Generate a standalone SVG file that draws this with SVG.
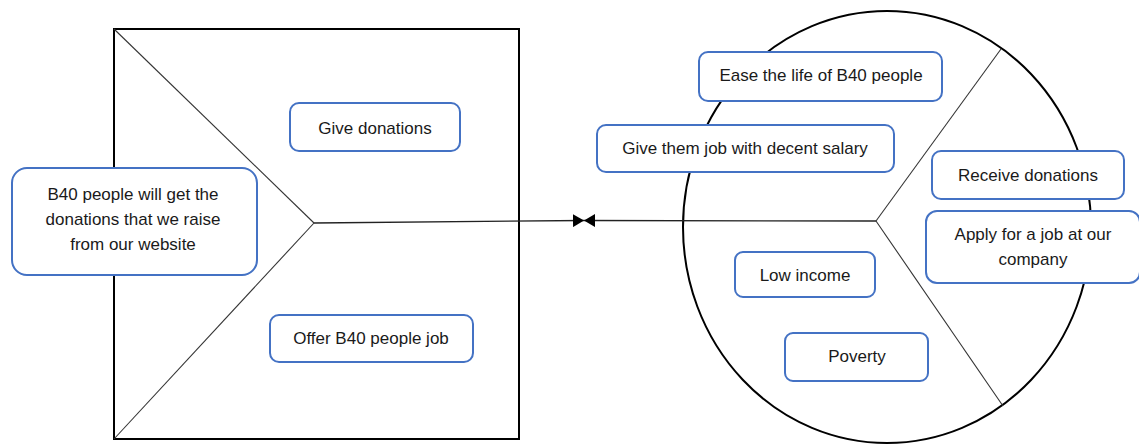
<svg xmlns="http://www.w3.org/2000/svg" width="1139" height="445" viewBox="0 0 1139 445">
<style>
.frame{fill:none;stroke:#000;stroke-width:2}
.spoke{fill:none;stroke:#333;stroke-width:1.1}
.conn{fill:none;stroke:#222;stroke-width:1.3}
.box{fill:#fff;stroke:#4472C4;stroke-width:2}
.t{font-family:"Liberation Sans",Arial,sans-serif;font-size:17px;fill:#1a1a1a;text-anchor:middle}
</style>
<defs>
<marker id="tri" viewBox="0 0 11 13" refX="11" refY="6.5" markerWidth="11" markerHeight="13" markerUnits="userSpaceOnUse" orient="auto">
<path d="M0,0 L11,6.5 L0,13 Z" fill="#000"/>
</marker>
</defs>
<rect width="1139" height="445" fill="#fff"/>
<g id="square">
<rect class="frame" x="114" y="29" width="405" height="410"/>
<line class="spoke" x1="114" y1="29" x2="314" y2="223"/>
<line class="spoke" x1="114" y1="439" x2="314" y2="223"/>
</g>
<g id="circle">
<ellipse class="frame" cx="887" cy="227" rx="204" ry="216"/>
<line class="spoke" x1="876" y1="221" x2="1001" y2="49"/>
<line class="spoke" x1="876" y1="221" x2="1003" y2="406"/>
</g>
<g id="connectors">
<line class="conn" x1="314" y1="223" x2="584" y2="220.5" marker-end="url(#tri)"/>
<line class="conn" x1="876" y1="221" x2="584" y2="220.5" marker-end="url(#tri)"/>
</g>
<g id="n-b40">
<rect class="box" x="12" y="168" width="245" height="107" rx="15"/>
<text class="t" x="133" y="200">B40 people will get the</text>
<text class="t" x="133" y="225">donations that we raise</text>
<text class="t" x="133" y="250">from our website</text>
</g>
<g id="n-give-donations">
<rect class="box" x="290" y="103" width="170" height="48" rx="9"/>
<text class="t" x="375" y="134">Give donations</text>
</g>
<g id="n-offer-job">
<rect class="box" x="270" y="315" width="203" height="47" rx="9"/>
<text class="t" x="371" y="344">Offer B40 people job</text>
</g>
<g id="n-ease">
<rect class="box" x="699" y="52" width="243" height="49" rx="9"/>
<text class="t" x="821" y="81">Ease the life of B40 people</text>
</g>
<g id="n-give-job">
<rect class="box" x="597" y="125" width="297" height="47" rx="9"/>
<text class="t" x="745" y="154">Give them job with decent salary</text>
</g>
<g id="n-receive">
<rect class="box" x="932" y="151" width="192" height="48" rx="9"/>
<text class="t" x="1028" y="181">Receive donations</text>
</g>
<g id="n-apply">
<rect class="box" x="926" y="211" width="214" height="72" rx="11"/>
<text class="t" x="1033" y="240">Apply for a job at our</text>
<text class="t" x="1033" y="265">company</text>
</g>
<g id="n-low-income">
<rect class="box" x="735" y="252" width="140" height="45" rx="8"/>
<text class="t" x="805" y="281">Low income</text>
</g>
<g id="n-poverty">
<rect class="box" x="785" y="333" width="143" height="48" rx="8"/>
<text class="t" x="857" y="362">Poverty</text>
</g>
</svg>
